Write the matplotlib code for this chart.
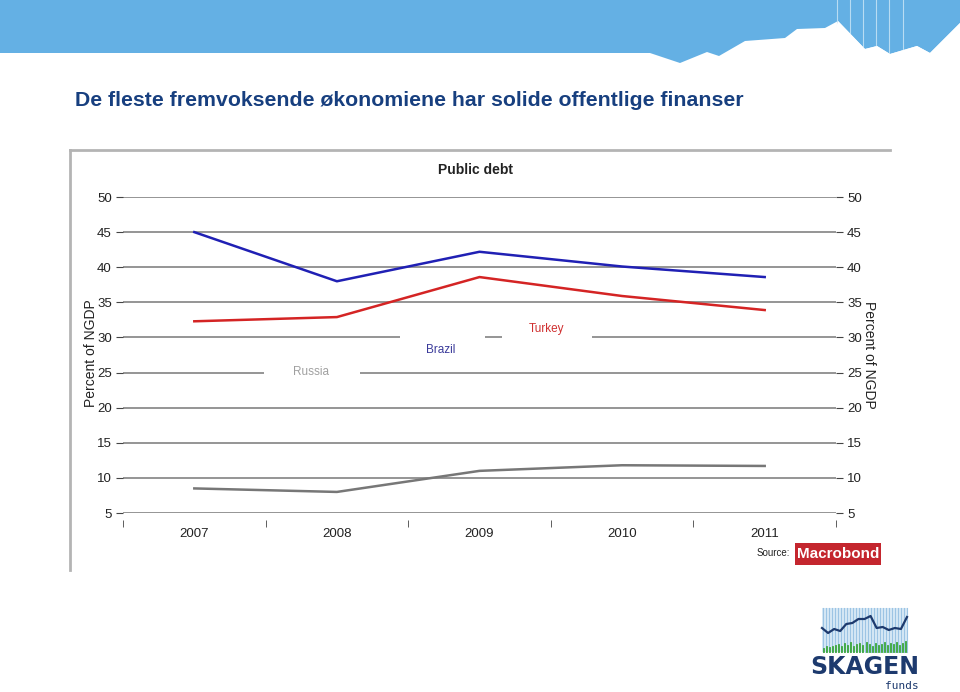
import matplotlib
matplotlib.use('Agg')
import matplotlib.pyplot as plt
from matplotlib.patches import Polygon, Rectangle
import numpy as np

plt.rcParams.update({'font.family': ['Liberation Sans', 'DejaVu Sans'], 'font.size': 9})

years = [2007, 2008, 2009, 2010, 2011]
brazil = [45.0, 38.0, 42.2, 40.1, 38.6]
turkey = [32.3, 32.9, 38.6, 35.9, 33.9]
russia = [8.5, 8.0, 11.0, 11.8, 11.7]
yticks = [5, 10, 15, 20, 25, 30, 35, 40, 45, 50]

# decorative logo curve (SKAGEN)
logo_line = [28, 33, 29, 31, 24, 23, 19, 19, 16, 28, 27, 30, 28, 29, 17]
logo_bars = [3, 5, 4, 5, 6, 7, 5, 8, 6, 9, 5, 7, 8, 6, 9, 7, 5, 8, 6, 7, 9, 6, 8, 7, 9, 6, 8, 10]

fig = plt.figure(figsize=(9.6, 6.92), dpi=100)

# background layer in pixel coords
bg = fig.add_axes([0, 0, 1, 1], zorder=0)
bg.set_xlim(0, 960)
bg.set_ylim(692, 0)
bg.axis('off')

banner = [(0, 0), (960, 0), (960, 23), (930, 53), (917, 46), (890, 54), (877, 46),
          (865, 49), (838, 21), (825, 28), (797, 29), (785, 38), (745, 41), (719, 56),
          (707, 52), (680, 63), (650, 53), (0, 53)]
bg.add_patch(Polygon(banner, closed=True, facecolor='#64b0e4', edgecolor='none'))
for sx in [837, 850, 863, 876, 889, 903]:
    bg.plot([sx, sx], [0, 60], color='#b8dcf3', lw=0.8, zorder=1)
white = [(838, 21), (865, 49), (877, 46), (890, 54), (917, 46), (930, 53), (960, 23),
         (960, 80), (820, 80)]
bg.add_patch(Polygon(white, closed=True, facecolor='white', edgecolor='none', zorder=2))

bg.text(75, 100, 'De fleste fremvoksende økonomiene har solide offentlige finanser',
        fontsize=15.3, fontweight='bold', color='#173f7f', va='center', ha='left')

# chart frame
bg.plot([70, 70], [150, 570], color='#b4b4b4', lw=2)
bg.plot([70, 890], [150, 150], color='#b4b4b4', lw=2)
bg.text(476, 170, 'Public debt', fontsize=10, fontweight='bold', ha='center', va='center',
        color='#222222')
bg.text(91, 353, 'Percent of NGDP', fontsize=10, rotation=90, ha='center', va='center',
        color='#222222')
bg.text(869, 355, 'Percent of NGDP', fontsize=10, rotation=270, ha='center', va='center',
        color='#222222')

# source box
bg.text(790, 553, 'Source:', fontsize=7, ha='right', va='center', color='#222222')
bg.add_patch(Rectangle((795, 543), 86, 22, facecolor='#c4262e', edgecolor='none'))
bg.text(838, 554, 'Macrobond', fontsize=11, fontweight='bold', color='white',
        ha='center', va='center', fontstretch='condensed')

# SKAGEN logo
bg.add_patch(Rectangle((822, 608), 86, 44, facecolor='#d7e8f5', edgecolor='none'))
for sx in np.linspace(823, 907, 29):
    bg.plot([sx, sx], [608, 652], color='#9cc4e4', lw=0.8)
lx = np.linspace(822, 907, len(logo_line))
bg.plot(lx, [600 + v for v in logo_line], color='#1d3a6e', lw=1.6)
bx = np.linspace(824, 906, len(logo_bars))
for x0, h in zip(bx, logo_bars):
    bg.plot([x0, x0], [652, 652 - h], color='#3aa63a', lw=1.3)
bg.text(865, 667, 'SKAGEN', fontsize=17, fontweight='bold', color='#1d3a6e',
        ha='center', va='center', family='DejaVu Sans')
bg.text(919, 686, 'funds', fontsize=8, color='#1d3a6e', ha='right', va='center',
        family='DejaVu Sans Mono')

# main chart
ax = fig.add_axes([123 / 960, 1 - 513 / 692, (836 - 123) / 960, (513 - 197) / 692], zorder=1)
ax.patch.set_alpha(0)
ax.set_xlim(2006.5, 2011.5)
ax.set_ylim(5, 50)
for y in yticks:
    ax.axhline(y, color='#8c8c8c', lw=1.3, zorder=1)

ax.plot(years, brazil, color='#2020b4', lw=1.8, zorder=3)
ax.plot(years, turkey, color='#d42424', lw=1.8, zorder=3)
ax.plot(years, russia, color='#777777', lw=1.8, zorder=3)

# white label boxes that break the grid lines
for x0, x1, y0, y1 in [(2007.49, 2008.16, 24.0, 26.3),
                       (2008.44, 2009.04, 26.8, 30.7),
                       (2009.16, 2009.79, 29.3, 32.4)]:
    ax.add_patch(Rectangle((x0, y0), x1 - x0, y1 - y0, facecolor='white',
                           edgecolor='none', zorder=2))
ax.text(2009.47, 31.2, 'Turkey', color='#d03030', fontsize=8.5, ha='center', va='center', zorder=2.5)
ax.text(2008.73, 28.2, 'Brazil', color='#3a3a9a', fontsize=8.5, ha='center', va='center', zorder=2.5)
ax.text(2007.82, 25.1, 'Russia', color='#a0a0a0', fontsize=8.5, ha='center', va='center', zorder=2.5)

for s in ax.spines.values():
    s.set_visible(False)
ax.spines['bottom'].set_position(('outward', 5))

ax.set_xticks(years)
ax.set_xticklabels([str(y) for y in years])
ax.set_xticks([2006.5 + i for i in range(6)], minor=True)
ax.tick_params(axis='x', which='major', length=0, pad=6, labelsize=9.5, colors='#222222')
ax.tick_params(axis='x', which='minor', length=5, direction='out', color='#444444')

ax.set_yticks(yticks)
ax.tick_params(axis='y', which='major', length=5, direction='out', color='#444444',
               labelsize=9.5, labelcolor='#222222', left=True, right=True,
               labelleft=True, labelright=True, pad=3)

fig.savefig('out.png', dpi=100)
